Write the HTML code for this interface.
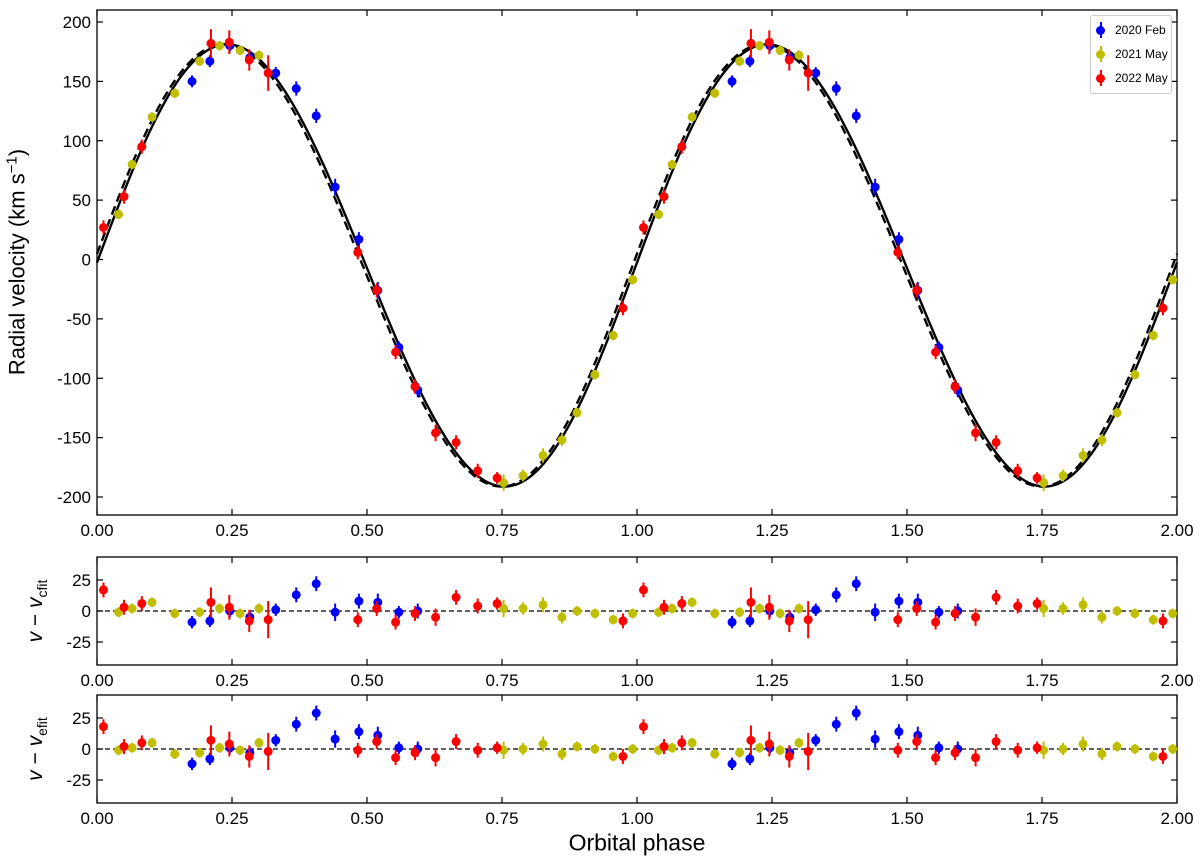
<!DOCTYPE html>
<html><head><meta charset="utf-8"><style>
html,body{margin:0;padding:0;background:#fff;}
svg{display:block;font-family:"Liberation Sans","DejaVu Sans",sans-serif;}
</style></head><body>
<svg id="chart" width="1200" height="864" viewBox="0 0 1200 864"></svg>
<script>
// ---- data (phase 0..1, repeated at +1) ----
const bluePhase=[0.176,0.209,0.246,0.283,0.331,0.369,0.406,0.441,0.485,0.520,0.559,0.594];
const blueRV=[150,167,180,170,157,144,121,61,17,-26,-74,-110];
const blueRes1=[-9,-8,0,-5,1,13,22,-1,8,7,-1,0];
const blueRes2=[-12,-8,1,-3,7,20,29,8,14,11,1,0];
const blueErr=[5,5,5,5,5,6,6,7,6,7,5,6];

const redPhase=[0.012,0.050,0.083,0.211,0.245,0.282,0.317,0.483,0.518,0.553,0.589,0.627,0.665,0.705,0.741,0.974];
const redRV=[27,53,95,182,183,168,157,6,-26,-78,-107,-146,-154,-178,-184,-41];
const redRes1=[17,3,6,7,3,-8,-7,-7,2,-9,-2,-5,11,4,6,-8];
const redRes2=[18,2,5,7,4,-6,-2,-1,6,-7,-3,-7,6,-1,1,-6];
const redErr=[6,6,6,12,10,9,15,6,6,6,6,7,6,6,5,6];

const yelPhase=[0.040,0.065,0.102,0.144,0.190,0.227,0.265,0.300,0.753,0.789,0.826,0.861,0.889,0.922,0.956,0.992];
const yelRV=[38,80,120,140,167,180,176,172,-188,-182,-165,-152,-129,-97,-64,-17];
const yelRes1=[-1,2,7,-2,-1,2,-2,2,2,2,5,-5,0,-2,-7,-2];
const yelRes2=[-1,1,5,-4,-3,1,-1,5,-1,0,4,-4,2,0,-6,0];
const yelErr=[4,4,4,4,4,4,4,4,7,5,6,5,4,4,4,4];

// model parameters: gamma, K, phase offset, 2nd-harmonic amplitude
const solidModel=[-5,186,-0.002,4];
const dashedModel=[-5,186,-0.008,4];

const xTicks=[0,0.25,0.5,0.75,1.0,1.25,1.5,1.75,2.0];
const yTicksMain=[-200,-150,-100,-50,0,50,100,150,200];
const yTicksRes=[-25,0,25];

// ---- layout ----
const NS="http://www.w3.org/2000/svg";
const svg=document.getElementById('chart');
const X0=97,X1=1177;
const panels=[
 {top:10,bot:515,name:'main-panel'},
 {top:557,bot:665,name:'residual-cfit-panel'},
 {top:695,bot:803,name:'residual-efit-panel'}
];
function xs(p){return X0+(p-0)/(2-0)*(X1-X0);}
function el(tag,attrs,parent){const e=document.createElementNS(NS,tag);for(const k in attrs)e.setAttribute(k,attrs[k]);(parent||svg).appendChild(e);return e;}

panels[0].ys=v=>259.5-v*1.1875;
panels[1].ys=v=>611-v*31/25;
panels[2].ys=v=>749-v*31/25;

function drawAxes(pn,idx,yTicks,showXLabels){
 const g=el('g',{});
 
 
 for(const t of xTicks){
  const x=xs(t);
  el('line',{x1:x,x2:x,y1:pn.bot,y2:pn.bot-6,stroke:'#000','stroke-width':1.2},g);
  el('line',{x1:x,x2:x,y1:pn.top,y2:pn.top+6,stroke:'#000','stroke-width':1.2},g);
  if(showXLabels){
   const tx=el('text',{x:x,y:pn.bot+21,'text-anchor':'middle','font-size':17},g);
   tx.textContent=t.toFixed(2);
   
   
  }
 }
 for(const t of yTicks){
  const y=pn.ys(t);
  el('line',{x1:X0,x2:X0+6,y1:y,y2:y,stroke:'#000','stroke-width':1.2},g);
  el('line',{x1:X1,x2:X1-6,y1:y,y2:y,stroke:'#000','stroke-width':1.2},g);
  const tx=el('text',{x:X0-6,y:y+6,'text-anchor':'end','font-size':17},g);
  tx.textContent=String(t);
  
  
 }
 el('rect',{x:X0,y:pn.top,width:X1-X0,height:pn.bot-pn.top,fill:'none',stroke:'#000','stroke-width':1.3},g);
}
drawAxes(panels[0],0,yTicksMain,true);
drawAxes(panels[1],1,yTicksRes,true);
drawAxes(panels[2],2,yTicksRes,true);

function model(m,p){const q=p-m[2];return m[0]+m[1]*Math.sin(2*Math.PI*q)+m[3]*Math.sin(4*Math.PI*q);}
function curve(m,dash,name){
 let d='';
 for(let i=0;i<=800;i++){const p=i/400;d+=(i?'L':'M')+xs(p).toFixed(2)+','+panels[0].ys(model(m,p)).toFixed(2);}
 const c=el('path',{d:d,fill:'none',stroke:'#000','stroke-width':2.4,'stroke-dasharray':dash||'none'});
 
 
}
curve(dashedModel,'9,5','dashed-model-curve');
curve(solidModel,null,'solid-model-curve');

for(const k of [1,2]){
 const y=panels[k].ys(0);
 const z=el('line',{x1:X0,x2:X1,y1:y,y2:y,stroke:'#000','stroke-width':1.2,'stroke-dasharray':'5,3'});
 
 
}

function series(ph,vals,err,color,pn,name){
 for(let rep=0;rep<2;rep++){
  for(let i=0;i<ph.length;i++){
   const p=ph[i]+rep; if(p>2.005)continue;
   const x=xs(p),y=pn.ys(vals[i]);
   const e=err[i]*(pn===panels[0]?1.1875:1.24);
   const g=el('g',{});
   
   
   el('line',{x1:x,x2:x,y1:y-e,y2:y+e,stroke:color,'stroke-width':2},g);
   el('circle',{cx:x,cy:y,r:4.5,fill:color},g);
  }
 }
}
const BL='#0000ff',YL='#bfbf00',RD='#ff0000';
series(bluePhase,blueRV,blueErr,BL,panels[0],'point-2020-feb');
series(yelPhase,yelRV,yelErr,YL,panels[0],'point-2021-may');
series(redPhase,redRV,redErr,RD,panels[0],'point-2022-may');
series(bluePhase,blueRes1,blueErr,BL,panels[1],'residual-cfit-2020-feb');
series(yelPhase,yelRes1,yelErr,YL,panels[1],'residual-cfit-2021-may');
series(redPhase,redRes1,redErr,RD,panels[1],'residual-cfit-2022-may');
series(bluePhase,blueRes2,blueErr,BL,panels[2],'residual-efit-2020-feb');
series(yelPhase,yelRes2,yelErr,YL,panels[2],'residual-efit-2021-may');
series(redPhase,redRes2,redErr,RD,panels[2],'residual-efit-2022-may');
</script>
<div style="position:absolute;left:1090px;top:15px;width:80px;height:77px;border:1px solid #ccc;border-radius:3px;background:#fff;font-family:'Liberation Sans',sans-serif;font-size:12px;">
 <div style="position:absolute;left:5px;top:6px;"><span style="position:absolute;left:4px;top:0;width:2px;height:16px;background:#00f"></span><span style="position:absolute;left:0;top:4px;width:9px;height:9px;border-radius:50%;background:#00f"></span><span style="position:absolute;left:19px;top:1px;white-space:nowrap">2020 Feb</span></div>
 <div style="position:absolute;left:5px;top:30px;"><span style="position:absolute;left:4px;top:0;width:2px;height:16px;background:#bfbf00"></span><span style="position:absolute;left:0;top:4px;width:9px;height:9px;border-radius:50%;background:#bfbf00"></span><span style="position:absolute;left:19px;top:1px;white-space:nowrap">2021 May</span></div>
 <div style="position:absolute;left:5px;top:54px;"><span style="position:absolute;left:4px;top:0;width:2px;height:16px;background:#f00"></span><span style="position:absolute;left:0;top:4px;width:9px;height:9px;border-radius:50%;background:#f00"></span><span style="position:absolute;left:19px;top:1px;white-space:nowrap">2022 May</span></div>
</div>
<div style="position:absolute;left:0;top:0;width:1200px;height:864px;pointer-events:none;font-family:'Liberation Sans',sans-serif;">
 <div style="position:absolute;left:17px;top:262px;transform:translate(-50%,-50%) rotate(-90deg);white-space:nowrap;font-size:22px;">Radial velocity (km s<sup style="font-size:15px">−1</sup>)</div>
 <div style="position:absolute;left:37px;top:611px;transform:translate(-50%,-50%) rotate(-90deg);white-space:nowrap;font-size:21px;"><i>v</i> − <i>v</i><sub style="font-size:14px">cfit</sub></div>
 <div style="position:absolute;left:37px;top:749px;transform:translate(-50%,-50%) rotate(-90deg);white-space:nowrap;font-size:21px;"><i>v</i> − <i>v</i><sub style="font-size:14px">efit</sub></div>
 <div style="position:absolute;left:637px;top:843px;transform:translate(-50%,-50%);white-space:nowrap;font-size:23px;">Orbital phase</div>
</div>
</body></html>
